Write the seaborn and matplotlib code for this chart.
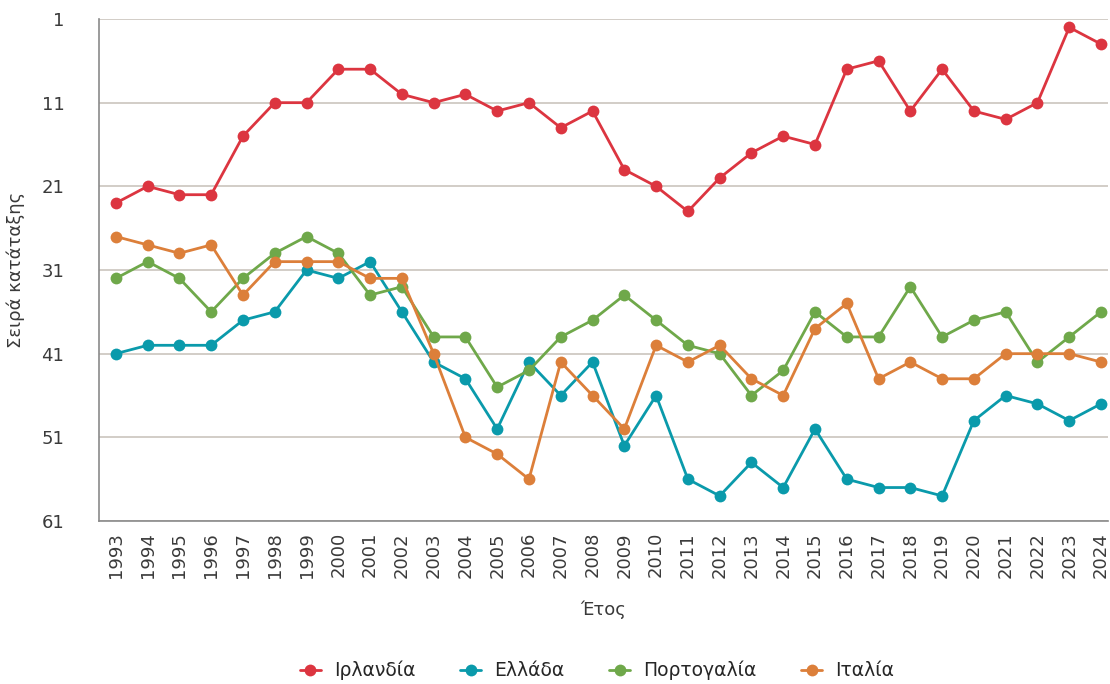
import pandas as pd
import matplotlib
matplotlib.use("Agg")
import matplotlib.pyplot as plt
import seaborn as sns
from matplotlib.ticker import FixedLocator

years = list(range(1993, 2025))

ireland = [23, 21, 22, 22, 15, 11, 11, 7, 7, 10, 11, 10, 12, 11, 14, 12,
           19, 21, 24, 20, 17, 15, 16, 7, 6, 12, 7, 12, 13, 11, 2, 4]
greece = [41, 40, 40, 40, 37, 36, 31, 32, 30, 36, 42, 44, 50, 42, 46, 42,
          52, 46, 56, 58, 54, 57, 50, 56, 57, 57, 58, 49, 46, 47, 49, 47]
portugal = [32, 30, 32, 36, 32, 29, 27, 29, 34, 33, 39, 39, 45, 43, 39, 37,
            34, 37, 40, 41, 46, 43, 36, 39, 39, 33, 39, 37, 36, 42, 39, 36]
italy = [27, 28, 29, 28, 34, 30, 30, 30, 32, 32, 41, 51, 53, 56, 42, 46,
         50, 40, 42, 40, 44, 46, 38, 35, 44, 42, 44, 44, 41, 41, 41, 42]

countries = ["Ιρλανδία", "Ελλάδα", "Πορτογαλία", "Ιταλία"]
colors = ["#dc3540", "#0a9aab", "#6fa84a", "#dc7f3a"]
y_ticks = [1, 11, 21, 31, 41, 51, 61]

frames = []
for name, vals in zip(countries, [ireland, greece, portugal, italy]):
    frames.append(pd.DataFrame({"year": years, "rank": vals, "country": name}))
df = pd.concat(frames, ignore_index=True)

sns.set_style("white")
plt.rcParams["font.family"] = ["DejaVu Sans"]

fig = plt.figure(figsize=(11.1, 6.84), dpi=100)
ax = fig.add_axes([99 / 1110, 1 - 521 / 684, 1009 / 1110, 502 / 684])

sns.lineplot(data=df, x="year", y="rank", hue="country", hue_order=countries,
             palette=dict(zip(countries, colors)), marker="o", markersize=8.5,
             markeredgewidth=0, linewidth=2, ax=ax, clip_on=False)

ax.set_ylim(61, 1)
ax.set_xlim(1992.47, 2024.22)
ax.set_yticks(y_ticks)
ax.set_yticklabels([str(t) for t in y_ticks])
ax.yaxis.grid(True, color="#cbc5bd", linewidth=1.2)
ax.set_axisbelow(True)

ax.set_xticks(years)
ax.set_xticklabels([str(y) for y in years], rotation=90)
ax.xaxis.set_minor_locator(FixedLocator([y - 0.5 for y in years]))
ax.tick_params(axis="x", which="major", length=0, pad=8, labelsize=13, colors="#3a3a3a")
ax.tick_params(axis="x", which="minor", length=5, width=1, color="#777777")
ax.tick_params(axis="y", length=5, width=1, color="#777777", pad=20,
               labelsize=13, labelcolor="#3a3a3a")

for s in ["top", "right"]:
    ax.spines[s].set_visible(False)
for s in ["left", "bottom"]:
    ax.spines[s].set_color("#8a8a8a")
    ax.spines[s].set_linewidth(1.2)

ax.set_xlabel("Έτος", fontsize=13, color="#3a3a3a")
ax.xaxis.set_label_coords(0.5, -0.158)
ax.set_ylabel("Σειρά κατάταξης", fontsize=13, color="#3a3a3a")
ax.yaxis.set_label_coords(-0.073, 0.5)

handles, labels = ax.get_legend_handles_labels()
ax.legend(handles, labels, loc="center", bbox_to_anchor=(0.538, 0.02),
          bbox_transform=fig.transFigure, ncol=4, frameon=False,
          fontsize=13.5, columnspacing=2.4, handlelength=1.1, handletextpad=0.7)

fig.savefig("out.png", dpi=100)
